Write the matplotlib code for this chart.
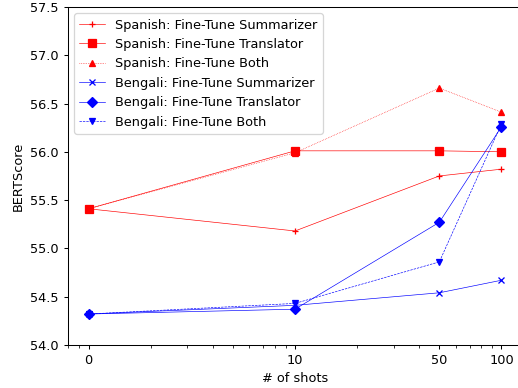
import matplotlib
matplotlib.use("Agg")
import matplotlib.pyplot as plt

shots = [1, 10, 50, 100]
shot_labels = ["0", "10", "50", "100"]

es_summarizer = [55.41, 55.18, 55.75, 55.82]
es_translator = [55.41, 56.01, 56.01, 56.00]
es_both = [55.41, 55.99, 56.66, 56.41]

bn_summarizer = [54.32, 54.41, 54.54, 54.67]
bn_translator = [54.32, 54.37, 55.27, 56.26]
bn_both = [54.32, 54.43, 54.86, 56.29]


def main():
    fig = plt.figure(figsize=(5.6, 4.195), dpi=92.5)
    ax = fig.add_axes([0.131, 0.111, 0.877, 0.871])

    lw = 0.5
    ax.plot(shots, es_summarizer, color='red', marker='+', markersize=5, linewidth=lw,
            label='Spanish: Fine-Tune Summarizer')
    ax.plot(shots, es_translator, color='red', marker='s', markersize=6, linewidth=lw,
            label='Spanish: Fine-Tune Translator')
    ax.plot(shots, es_both, color='red', marker='^', markersize=5, linewidth=lw,
            linestyle=':', label='Spanish: Fine-Tune Both')
    ax.plot(shots, bn_summarizer, color='blue', marker='x', markersize=4, linewidth=lw,
            label='Bengali: Fine-Tune Summarizer')
    ax.plot(shots, bn_translator, color='blue', marker='D', markersize=6, linewidth=lw,
            label='Bengali: Fine-Tune Translator')
    ax.plot(shots, bn_both, color='blue', marker='v', markersize=5, linewidth=lw,
            linestyle='--', label='Bengali: Fine-Tune Both')

    ax.set_xscale('log')
    ax.set_xticks(shots)
    ax.set_xticklabels(shot_labels)
    ax.set_xlim(10 ** -0.1, 10 ** 2.1)
    ax.set_ylim(54.0, 57.5)
    ax.set_xlabel('# of shots')
    ax.set_ylabel('BERTScore')
    ax.legend(loc='upper left')

    fig.savefig('out.png', dpi=92.5)


if __name__ == '__main__':
    main()
